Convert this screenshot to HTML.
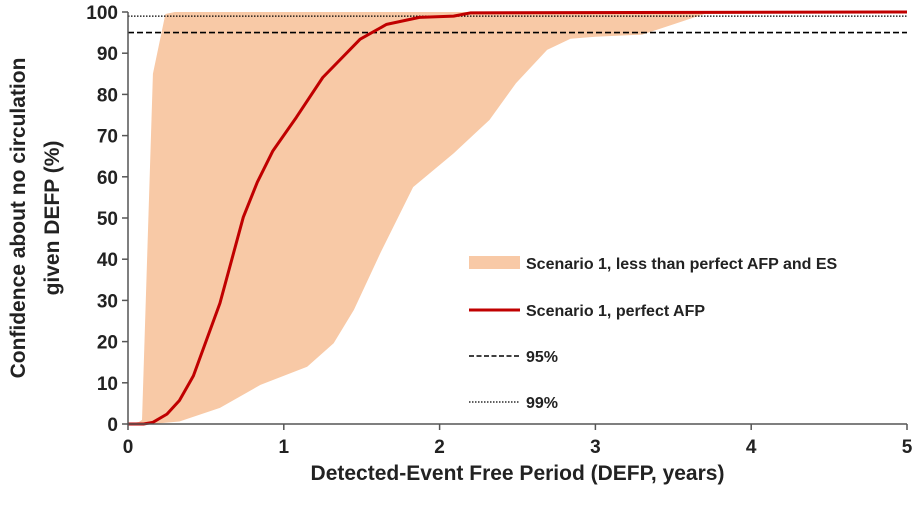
<!DOCTYPE html>
<html><head><meta charset="utf-8"><style>
body{margin:0;background:#fff;}
svg text{font-family:"Liberation Sans",Arial,sans-serif;font-weight:bold;fill:#222;}
</style></head><body>
<svg id="chart" width="915" height="510" xmlns="http://www.w3.org/2000/svg">
<g id="plot"></g>
</svg>
<script>
const xTicks=[0,1,2,3,4,5];
const yTicks=[0,10,20,30,40,50,60,70,80,90,100];
const upperX=[0,0.07,0.09,0.16,0.24,0.3,5];
const upperY=[0,0.5,1,85,99.5,100,100];
const lowerX=[0,0.15,0.33,0.59,0.85,1.15,1.32,1.45,1.62,1.83,2.09,2.32,2.49,2.69,2.84,3.0,3.3,3.5,3.7,5];
const lowerY=[0,0,0.6,3.9,9.5,13.9,19.6,27.7,41.5,57.5,65.7,73.8,82.7,90.8,93.5,94,94.5,97,99.5,100];
const perfX=[0,0.1,0.16,0.25,0.33,0.42,0.59,0.74,0.83,0.93,1.08,1.25,1.49,1.66,1.87,2.09,2.2,5];
const perfY=[0,0,0.4,2.4,5.7,11.7,29.3,50.2,58.7,66.3,74.4,84.1,93.4,97,98.7,99,99.8,100];
const ref95=95, ref99=99;

const X0=128,X1=907,Y0=424,Y1=12;
const sx=v=>X0+(v-0)/(5-0)*(X1-X0);
const sy=v=>Y0-(v-0)/(100-0)*(Y0-Y1);
const NS="http://www.w3.org/2000/svg";
const g=document.getElementById('plot');
function mk(t,a){const e=document.createElementNS(NS,t);for(const k in a)e.setAttribute(k,a[k]);g.appendChild(e);return e;}

let d='M'+upperX.map((x,i)=>sx(x)+','+sy(upperY[i])).join(' L');
for(let i=lowerX.length-1;i>=0;i--) d+=' L'+sx(lowerX[i])+','+sy(lowerY[i]);
d+=' Z';
const band=mk('path',{d:d,fill:'#f8c9a6',stroke:'none'});



const l95=mk('line',{x1:X0,x2:X1,y1:sy(ref95),y2:sy(ref95),stroke:'#000','stroke-width':1.6,'stroke-dasharray':'6,3'});


const l99=mk('line',{x1:X0,x2:X1,y1:sy(ref99),y2:sy(ref99),stroke:'#000','stroke-width':1.2,'stroke-dasharray':'1.5,1.5'});



const pl=mk('polyline',{points:perfX.map((x,i)=>sx(x)+','+sy(perfY[i])).join(' '),fill:'none',stroke:'#c00000','stroke-width':3,'stroke-linejoin':'round'});



const ax=mk('path',{d:`M${X0},${Y1} V${Y0} H${X1}`,fill:'none',stroke:'#555','stroke-width':1.5});



yTicks.forEach(v=>{
  const t=mk('line',{x1:X0-6,x2:X0,y1:sy(v),y2:sy(v),stroke:'#555','stroke-width':1.5});
  
  
  const l=mk('text',{x:X0-10,y:sy(v)+7,'text-anchor':'end','font-size':19});
  l.textContent=v;
  
  
});
xTicks.forEach(v=>{
  const t=mk('line',{x1:sx(v),x2:sx(v),y1:Y0,y2:Y0+6,stroke:'#555','stroke-width':1.5});
  
  
  const l=mk('text',{x:sx(v),y:Y0+29,'text-anchor':'middle','font-size':19});
  l.textContent=v;
  
  
});

const xt=mk('text',{x:(X0+X1)/2,y:480,'text-anchor':'middle','font-size':21});
xt.textContent='Detected-Event Free Period (DEFP, years)';


const yt1=mk('text',{x:0,y:0,'text-anchor':'middle','font-size':21,transform:'translate(25,218) rotate(-90)'});
yt1.textContent='Confidence about no circulation';


const yt2=mk('text',{x:0,y:0,'text-anchor':'middle','font-size':21,transform:'translate(59,218) rotate(-90)'});
yt2.textContent='given DEFP (%)';



// legend
const LX=469,LW=51;
const s1=mk('rect',{x:LX,y:256,width:LW,height:13,fill:'#f8c9a6'});


const s2=mk('line',{x1:LX,x2:LX+LW,y1:310,y2:310,stroke:'#c00000','stroke-width':3});


const s3=mk('line',{x1:LX,x2:LX+LW,y1:356,y2:356,stroke:'#000','stroke-width':1.6,'stroke-dasharray':'5,2.5'});


const s4=mk('line',{x1:LX,x2:LX+LW,y1:402,y2:402,stroke:'#000','stroke-width':1.2,'stroke-dasharray':'1.5,1.5'});


[['Scenario 1, less than perfect AFP and ES',263,'legend-label-band'],['Scenario 1, perfect AFP',310,'legend-label-perfect'],['95%',356,'legend-label-95'],['99%',402,'legend-label-99']].forEach(a=>{
  const t=mk('text',{x:526,y:a[1]+6,'font-size':16});
  t.textContent=a[0];
  
  
});
</script>
</body></html>
